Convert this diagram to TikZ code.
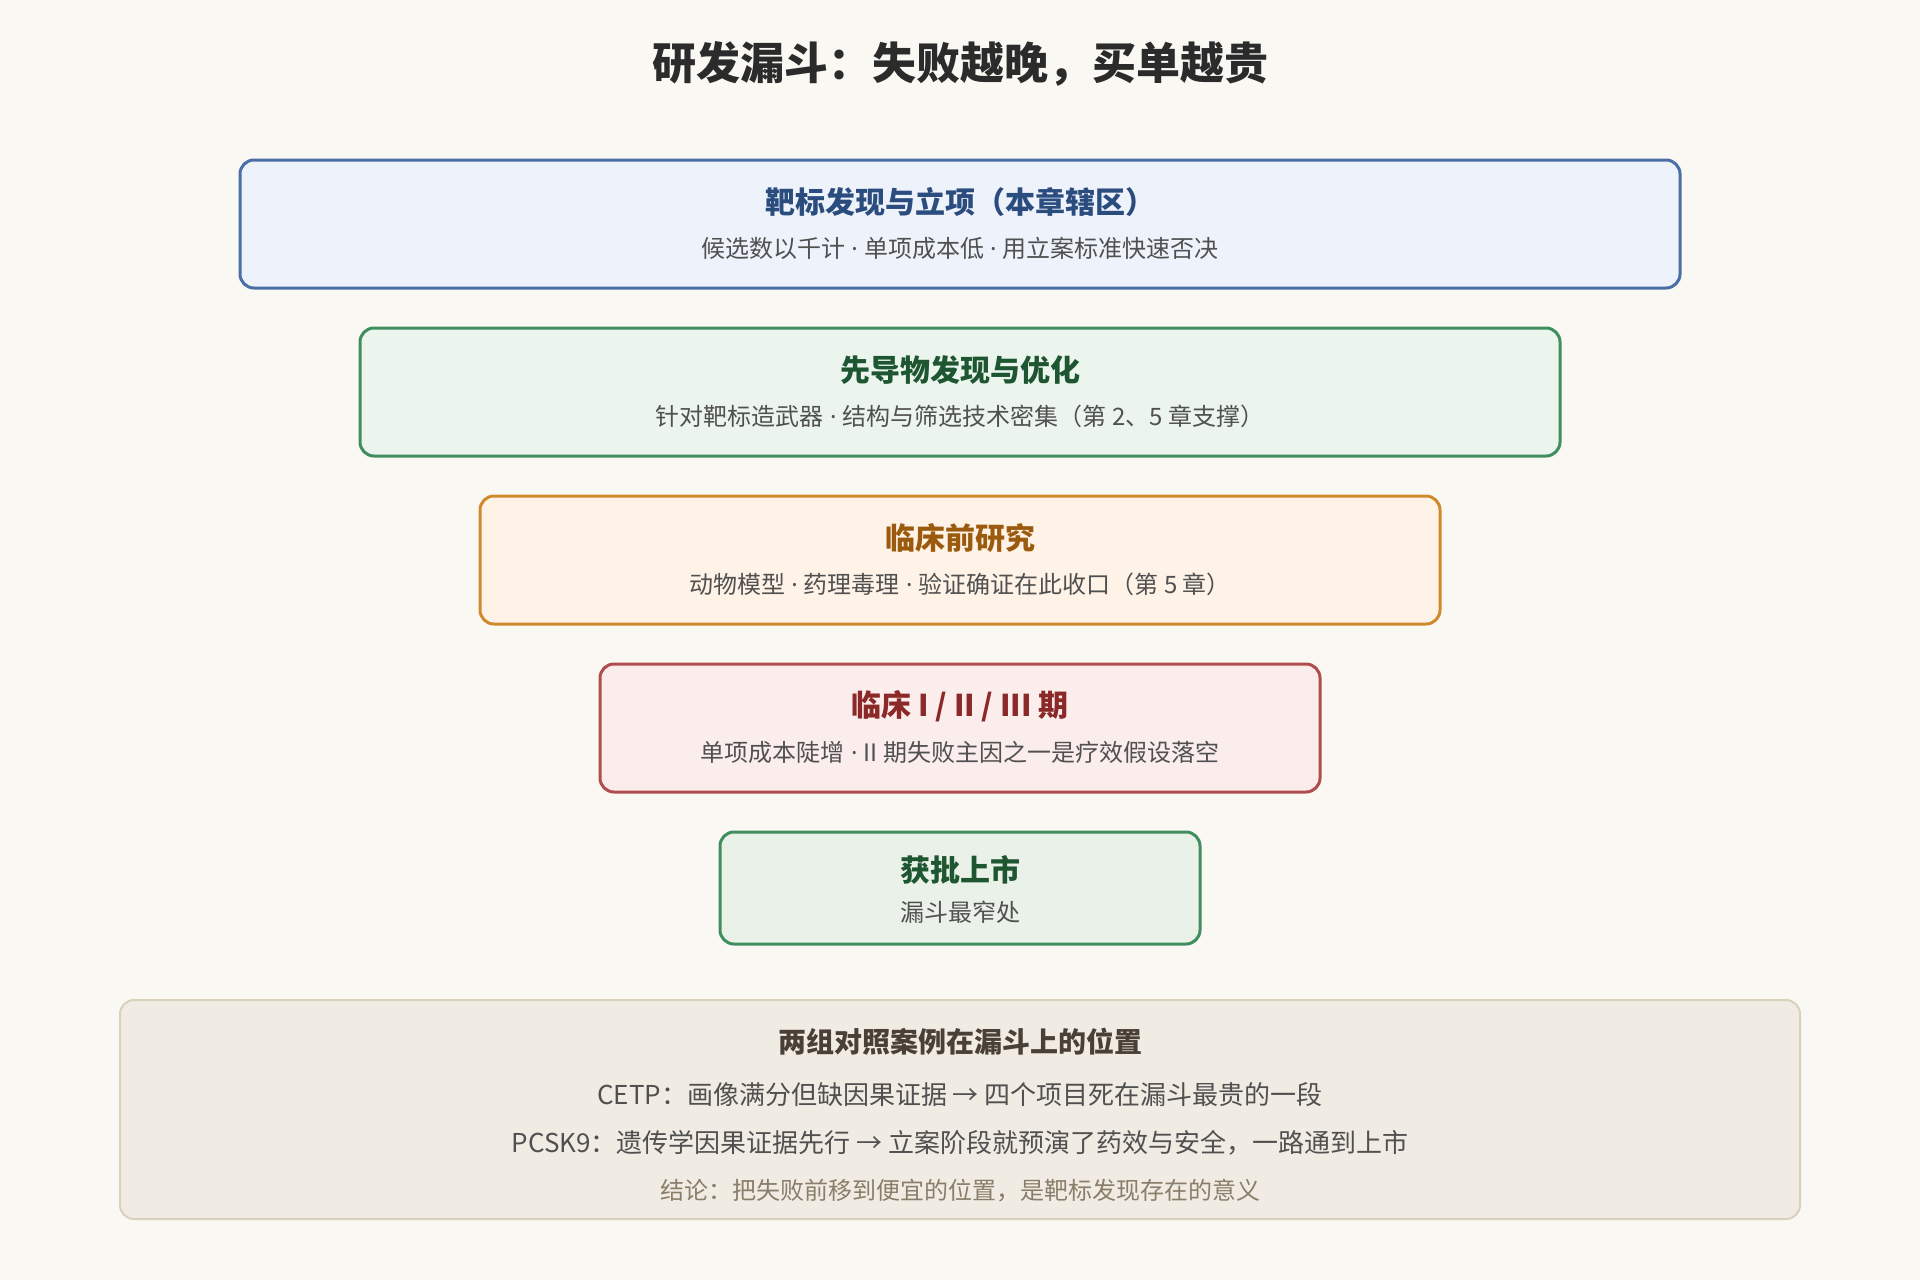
\documentclass[tikz,border=0pt]{standalone}
\usepackage{fontspec}
\setmainfont{Noto Sans CJK SC}
\newfontfamily\latinf{Noto Sans}
\newcommand\mdt{{\latinf\ ·\ }}
\definecolor{bgc}{HTML}{FAF8F3}
\definecolor{titc}{HTML}{2B2B2B}
\definecolor{subc}{HTML}{505050}
\definecolor{bAfill}{HTML}{EEF3FB}\definecolor{bAdraw}{HTML}{4A6FA5}\definecolor{bAtext}{HTML}{2B4C7E}
\definecolor{bBfill}{HTML}{EBF5EE}\definecolor{bBdraw}{HTML}{3F8E5F}\definecolor{bBtext}{HTML}{1E5631}
\definecolor{bCfill}{HTML}{FEF3E6}\definecolor{bCdraw}{HTML}{D08A2E}\definecolor{bCtext}{HTML}{9C5A0E}
\definecolor{bDfill}{HTML}{FCEDED}\definecolor{bDdraw}{HTML}{B04C4C}\definecolor{bDtext}{HTML}{8B2828}
\definecolor{bEfill}{HTML}{E9F1E8}\definecolor{bEdraw}{HTML}{3F8E5F}\definecolor{bEtext}{HTML}{1E5631}
\definecolor{nfill}{HTML}{F1ECE3}\definecolor{ndraw}{HTML}{D9D0BE}\definecolor{ntext}{HTML}{4A4038}
\definecolor{concl}{HTML}{8A7D6A}
\tikzset{
  stage/.style={rounded corners=14pt, line width=3pt},
  stitle/.style={font=\bfseries\fontsize{30}{35}\selectfont, anchor=center, inner sep=0pt},
  ssub/.style={font=\fontsize{24}{29}\selectfont, text=subc, anchor=center, inner sep=0pt},
}
\begin{document}
\begin{tikzpicture}[x=1pt,y=-1pt]
\fill[bgc] (0,0) rectangle (1920,1280);
\useasboundingbox (0,0) rectangle (1920,1280);
\node[font=\bfseries\fontsize{44}{51}\selectfont, text=titc, inner sep=0pt] (title) at (960,64) {研发漏斗：失败越晚，买单越贵};
% stage 1
\path[stage, fill=bAfill, draw=bAdraw] (240,160) rectangle (1680,288);
\node[stitle, text=bAtext] (t1) at (960,202) {靶标发现与立项（本章辖区）};
\node[ssub] (s1) at (960,248) {候选数以千计\mdt 单项成本低\mdt 用立案标准快速否决};
% stage 2
\path[stage, fill=bBfill, draw=bBdraw] (360,328) rectangle (1560,456);
\node[stitle, text=bBtext] (t2) at (960,370) {先导物发现与优化};
\node[ssub] (s2) at (960,416) {针对靶标造武器\mdt 结构与筛选技术密集（第 2、5 章支撑）};
% stage 3
\path[stage, fill=bCfill, draw=bCdraw] (480,496) rectangle (1440,624);
\node[stitle, text=bCtext] (t3) at (960,538) {临床前研究};
\node[ssub] (s3) at (960,584) {动物模型\mdt 药理毒理\mdt 验证确证在此收口（第 5 章）};
% stage 4
\path[stage, fill=bDfill, draw=bDdraw] (600,664) rectangle (1320,792);
\node[stitle, text=bDtext] (t4) at (960,706) {临床 I / II / III 期};
\node[ssub] (s4) at (960,752) {单项成本陡增\mdt II 期失败主因之一是疗效假设落空};
% stage 5
\path[stage, fill=bEfill, draw=bEdraw] (720,832) rectangle (1200,944);
\node[stitle, text=bEtext] (t5) at (960,870) {获批上市};
\node[ssub] (s5) at (960,912) {漏斗最窄处};
% note box
\path[rounded corners=14pt, line width=2pt, fill=nfill, draw=ndraw] (120,1000) rectangle (1800,1219);
\node[font=\bfseries\fontsize{28}{33}\selectfont, text=ntext, inner sep=0pt] (nh) at (960,1042) {两组对照案例在漏斗上的位置};
\node[font=\fontsize{26}{31}\selectfont, text=subc, inner sep=0pt] (n1) at (960,1095) {CETP：画像满分但缺因果证据 → 四个项目死在漏斗最贵的一段};
\node[font=\fontsize{26}{31}\selectfont, text=subc, inner sep=0pt] (n2) at (960,1143) {PCSK9：遗传学因果证据先行 → 立案阶段就预演了药效与安全，一路通到上市};
\node[font=\fontsize{24}{29}\selectfont, text=concl, inner sep=0pt] (n3) at (960,1191) {结论：把失败前移到便宜的位置，是靶标发现存在的意义};
\end{tikzpicture}
\end{document}
